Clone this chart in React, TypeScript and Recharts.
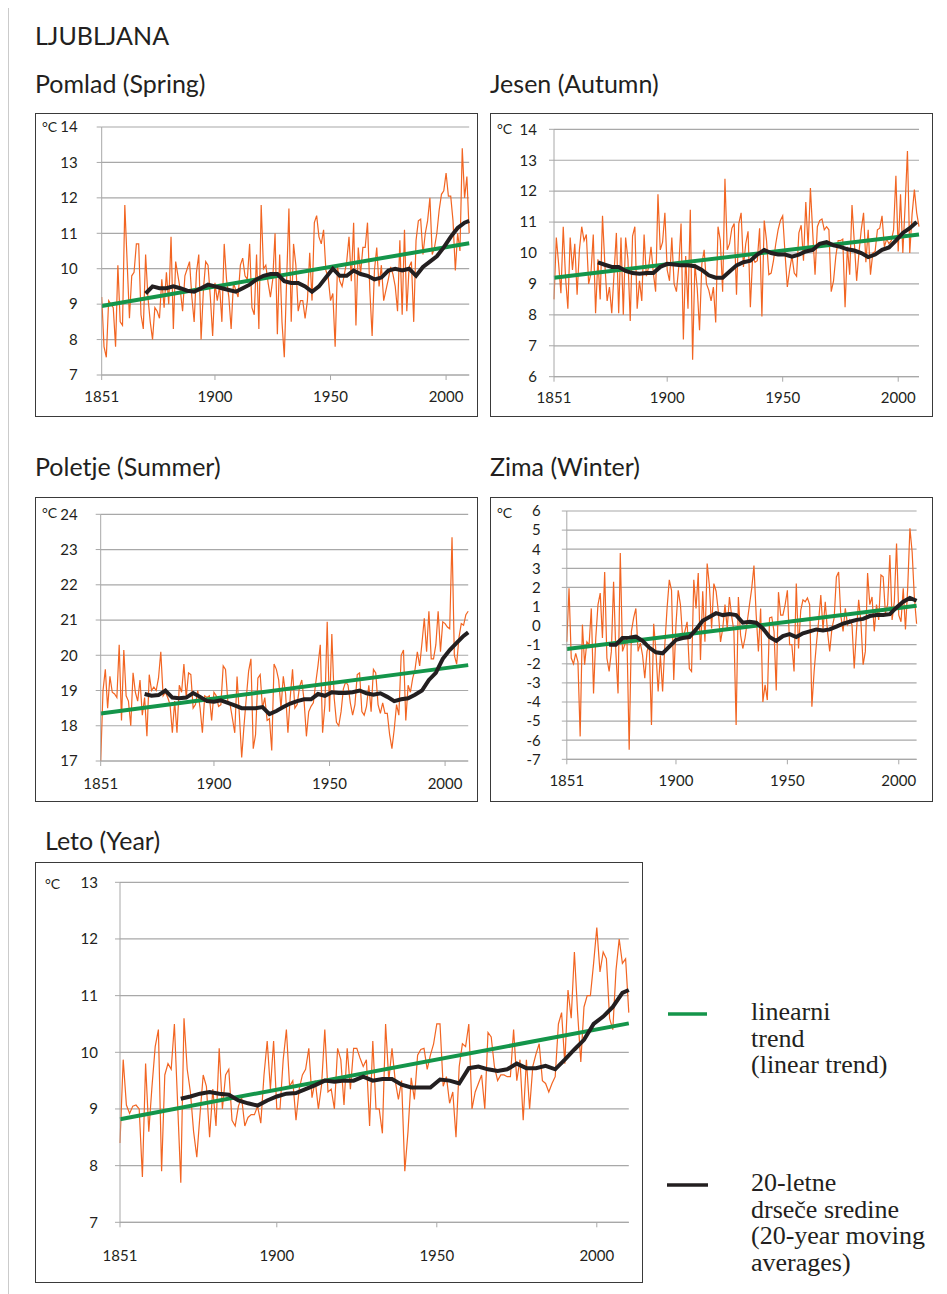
import React from "react";
import { CartesianGrid, Line, LineChart, ReferenceLine, XAxis, YAxis } from "recharts";

// first year of every series; each value array holds one value per year from here on
const FIRST_YEAR = 1851;
const xTicks = [1851, 1900, 1950, 2000];

const mavgYears = [
  1870, 1873, 1876, 1879, 1882, 1885, 1888, 1891, 1894, 1897, 1900, 1903, 1906, 1909, 1912, 1915,
  1918, 1921, 1924, 1927, 1930, 1933, 1936, 1939, 1942, 1945, 1948, 1951, 1954, 1957, 1960, 1963,
  1966, 1969, 1972, 1975, 1978, 1981, 1984, 1987, 1990, 1993, 1996, 1999, 2002, 2005, 2008, 2010,
];

// Pomlad (Spring) 1851-2010
const springValues = [
  9.2, 7.8, 7.5, 9.1, 9.0, 8.9, 7.8, 10.1, 8.5, 8.4,
  11.8, 10.2, 8.6, 9.8, 9.9, 10.7, 10.7, 8.7, 8.3, 10.4,
  9.2, 8.5, 8.0, 8.9, 8.8, 8.6, 9.7, 8.9, 9.9, 9.0,
  10.9, 8.3, 10.2, 9.8, 9.4, 8.8, 9.8, 10.0, 10.2, 9.2,
  8.5, 9.9, 10.4, 8.0, 9.4, 10.2, 10.1, 9.2, 8.1, 9.6,
  9.1, 9.5, 8.5, 10.7, 9.7, 9.2, 8.3, 9.6, 9.4, 9.2,
  10.1, 10.3, 9.8, 9.7, 10.7, 8.9, 8.7, 10.4, 8.3, 11.8,
  10.0, 10.1, 9.6, 9.2, 9.7, 11.0, 8.15, 10.4, 8.5, 7.5,
  9.65, 11.7, 8.5, 10.7, 10.1, 8.8, 9.1, 9.1, 8.6, 9.1,
  10.45, 9.1, 11.3, 11.5, 10.9, 10.7, 11.1, 9.95, 9.75, 9.1,
  9.3, 7.8, 10.05, 9.65, 9.5, 9.85, 10.2, 10.9, 9.65, 11.3,
  8.4, 10.6, 9.85, 10.6, 10.6, 11.3, 9.4, 8.1, 9.95, 10.6,
  9.5, 10.1, 9.1, 9.4, 9.7, 10.05, 9.85, 9.5, 8.8, 10.8,
  8.7, 11.1, 8.8, 10.05, 10.2, 8.5, 10.8, 11.35, 11.4, 10.4,
  11.0, 11.35, 12.0, 10.4, 10.6, 11.0, 11.65, 12.1, 12.2, 12.7,
  12.05, 12.05, 11.35, 9.95, 11.0, 10.5, 13.4, 12.0, 12.6, 11.0,
];
const springMavg = [
  9.3, 9.5, 9.45, 9.45, 9.5, 9.45, 9.38, 9.35, 9.45, 9.55,
  9.5, 9.45, 9.4, 9.35, 9.45, 9.55, 9.7, 9.8, 9.85, 9.85,
  9.65, 9.6, 9.6, 9.5, 9.35, 9.5, 9.75, 10.0, 9.8, 9.8,
  9.95, 9.85, 9.8, 9.7, 9.75, 9.95, 10.0, 9.95, 10.0, 9.8,
  10.05, 10.2, 10.35, 10.6, 10.9, 11.15, 11.3, 11.35,
];
const springTrend = [8.95, 10.72];
const springTicks = [7, 8, 9, 10, 11, 12, 13, 14];

// Jesen (Autumn) 1851-2009
const autumnValues = [
  8.5, 10.5, 9.65, 8.7, 10.85, 9.2, 8.2, 10.5, 9.45, 10.3,
  8.65, 10.1, 10.85, 10.4, 10.6, 9.0, 9.35, 10.6, 8.05, 9.8,
  8.5, 11.2, 9.65, 8.45, 8.9, 8.05, 9.35, 10.65, 8.05, 10.5,
  8.0, 10.5, 9.8, 7.8, 10.55, 10.85, 8.2, 9.1, 8.45, 10.6,
  9.25, 9.55, 10.2, 9.35, 8.75, 11.9, 10.1, 10.35, 11.3, 9.45,
  9.1, 10.5, 9.0, 8.75, 9.55, 10.95, 7.2, 9.9, 8.2, 11.4,
  6.55, 9.65, 8.85, 7.5, 9.65, 10.1, 9.0, 8.8, 8.45, 8.9,
  7.75, 10.85, 10.4, 8.75, 12.4, 10.1, 10.3, 10.8, 10.95, 8.65, 10.95,
  11.3, 9.55, 10.3, 10.7, 8.25, 9.9, 9.7, 9.75, 10.8, 7.95,
  11.05, 10.4, 9.3, 9.35, 9.75, 10.3, 10.75, 11.05, 11.2, 10.0,
  8.9, 9.45, 9.9, 9.35, 9.25, 10.65, 10.9, 9.75, 11.65, 10.2,
  12.1, 10.65, 9.3, 10.85, 11.05, 11.1, 10.75, 10.85, 10.75, 8.75,
  9.1, 9.9, 10.4, 10.4, 10.45, 8.25, 10.2, 9.3, 11.55, 10.35,
  9.1, 10.0, 10.75, 11.3, 9.7, 10.75, 9.3, 10.0, 10.05, 10.75,
  10.8, 11.2, 10.2, 10.45, 10.3, 10.4, 10.75, 12.5, 10.05, 11.9,
  10.0, 11.55, 13.3, 10.0, 11.25, 12.05, 11.3, 10.85,
];
const autumnMavg = [
  9.7, 9.62, 9.55, 9.55, 9.42, 9.35, 9.33, 9.35, 9.35, 9.55,
  9.65, 9.63, 9.6, 9.6, 9.57, 9.45, 9.28, 9.2, 9.2, 9.4,
  9.6, 9.7, 9.75, 9.95, 10.1, 10.0, 9.95, 9.95, 9.88, 9.95,
  10.05, 10.1, 10.3, 10.35, 10.25, 10.2, 10.12, 10.08, 10.0, 9.87,
  9.95, 10.1, 10.18, 10.4, 10.65, 10.8, 11.0, 11.05,
];
const autumnTrend = [9.2, 10.6];
const autumnTicks = [6, 7, 8, 9, 10, 11, 12, 13, 14];

// Poletje (Summer) 1851-2010
const summerValues = [
  17.0, 19.0, 19.6, 18.5, 19.4, 18.95, 18.9, 18.8, 20.3, 18.15,
  20.15, 18.85, 18.7, 18.0, 19.5, 18.95, 18.7, 19.3, 18.3, 18.8,
  17.7, 19.45, 19.0, 19.1, 19.0, 19.35, 20.1, 18.85, 18.95, 18.8,
  18.6, 17.8, 18.7, 17.8, 19.15, 18.95, 19.75, 18.8, 19.5, 19.45,
  18.5, 18.6, 19.0, 18.5, 17.8, 18.85, 18.8, 18.85, 18.15, 18.95,
  18.85, 18.55, 18.6, 19.7, 19.6, 18.7, 18.6, 18.2, 17.8, 19.4,
  18.3, 17.1, 18.0, 18.8, 19.55, 19.9, 17.35, 17.75, 19.35, 19.45,
  18.5, 18.8, 18.15, 18.2, 17.3, 19.75, 19.6, 19.3, 18.5, 19.4,
  18.9, 17.8, 18.8, 19.6, 18.5, 18.6, 19.1, 19.3, 18.7, 17.7,
  18.4, 18.55, 18.65, 19.2, 19.7, 20.3, 17.8, 18.6, 20.95, 18.4,
  20.6, 18.8, 18.1, 18.0, 18.4, 19.05, 19.25, 19.15, 18.65, 18.3,
  18.6, 19.45, 19.5, 18.4, 18.3, 18.55, 19.15, 18.4, 19.6, 19.5,
  18.6, 18.35, 18.65, 18.35, 18.35, 17.75, 17.35, 17.9, 18.6, 18.3,
  20.0, 20.15, 18.15, 19.15, 18.95, 19.35, 19.6, 20.1, 19.7, 20.35,
  21.05, 20.1, 21.25, 19.9, 19.9, 20.3, 21.25, 20.1, 20.95, 20.9,
  20.8, 20.75, 23.35, 20.0, 19.75, 20.5, 20.9, 20.85, 21.15, 21.25,
];
const summerMavg = [
  18.9, 18.85, 18.87, 19.0, 18.8, 18.78, 18.8, 18.93, 18.82, 18.7,
  18.68, 18.72, 18.65, 18.58, 18.5, 18.5, 18.5, 18.53, 18.33, 18.42,
  18.53, 18.63, 18.7, 18.75, 18.75, 18.9, 18.85, 18.95, 18.93, 18.93,
  18.95, 19.0, 18.92, 18.88, 18.92, 18.82, 18.7, 18.75, 18.78, 18.88,
  19.0, 19.3, 19.5, 19.9, 20.15, 20.35, 20.55, 20.65,
];
const summerTrend = [18.35, 19.72];
const summerTicks = [17, 18, 19, 20, 21, 22, 23, 24];

// Zima (Winter) 1851-2008
const winterValues = [
  -0.85, 1.95, -1.7, -2.0, -1.45, -1.9, -5.8, 0.05, -2.05, -0.85,
  -1.0, 0.9, -3.55, -0.65, 1.1, 1.7, -0.65, 2.8, -1.7, -2.4,
  -1.35, 2.3, -1.35, -3.55, 3.8, -1.35, -1.0, -0.65, -6.5, -0.3,
  0.4, 0.9, -1.35, -0.9, -1.55, -2.75, -1.35, -1.0, -5.2, 0.1,
  -1.35, -3.45, -1.55, -3.45, -1.0, 0.9, 2.4, 1.85, -2.85, 0.05,
  1.85, 1.1, -0.65, -0.3, 0.2, -2.25, -2.4, 2.4, 0.9, 2.75,
  -1.8, 1.8, -0.85, 3.25, 2.1, -0.15, 2.2, 1.8, 0.75, -0.85,
  -0.15, 1.1, -0.15, 1.5, 0.5, -0.3, -5.2, 1.5, -0.5, -1.2, -0.65,
  0.2, 1.1, 1.95, 3.15, 0.55, -1.35, 0.9, -4.0, -3.1, -3.9,
  0.4, 0.45, -0.3, -3.4, 1.75, 0.55, 0.55, 1.1, 1.85, -1.0,
  -1.0, -2.4, 2.2, -1.2, 0.8, 1.35, 1.25, 1.45, 1.1, -4.25,
  -2.4, -1.0, 0.2, 1.6, -0.2, 1.25, -0.3, -1.35, -0.15, 0.4,
  2.55, 2.8, 0.5, -0.3, 0.9, 0.05, 0.3, 0.05, -2.25, -0.3,
  1.35, 0.2, -2.05, -1.35, 2.75, 1.1, 1.5, -0.3, 1.1, 0.3,
  2.65, 2.55, 0.65, 1.1, 3.7, 0.3, 1.25, 4.3, 0.55, 0.2,
  1.95, -0.2, 1.95, 5.1, 3.85, 1.45, 0.1,
];
const winterMavg = [
  -1.0, -1.0, -0.65, -0.63, -0.58, -0.8, -1.15, -1.4, -1.45, -1.1,
  -0.75, -0.65, -0.6, -0.2, 0.25, 0.45, 0.65, 0.55, 0.6, 0.55,
  0.15, 0.2, 0.15, -0.15, -0.6, -0.8, -0.55, -0.45, -0.6, -0.4,
  -0.3, -0.2, -0.25, -0.2, -0.05, 0.1, 0.2, 0.3, 0.35, 0.5,
  0.55, 0.55, 0.6, 0.95, 1.25, 1.45, 1.3, 1.3,
];
const winterTrend = [-1.23, 1.04];
const winterTicks = [-7, -6, -5, -4, -3, -2, -1, 0, 1, 2, 3, 4, 5, 6];

// Leto (Year) 1851-2010
const yearValues = [
  8.4, 9.87, 9.07, 8.92, 9.05, 9.07, 9.0, 7.8, 9.8, 8.6,
  9.4, 10.1, 10.4, 7.9, 9.6, 9.8, 9.7, 10.5, 9.1, 7.7,
  10.6, 9.7, 9.3, 8.6, 8.15, 8.9, 9.6, 9.4, 8.5, 9.35,
  8.7, 10.07, 9.0, 9.6, 9.7, 8.8, 8.7, 9.05, 9.2, 8.7,
  8.85, 8.9, 8.9, 9.05, 8.75, 9.6, 10.2, 9.35, 10.2, 9.0,
  9.0, 9.87, 10.4, 9.4, 9.5, 8.8, 9.35, 9.6, 9.7, 10.07,
  9.2, 9.5, 9.0, 9.43, 10.4, 9.3, 9.35, 9.0, 10.07, 9.87,
  9.07, 10.07, 9.35, 10.07, 10.07, 9.9, 9.75, 9.87, 8.7, 10.2,
  9.0, 9.0, 8.57, 10.5, 9.5, 10.07, 9.5, 9.17, 9.5, 7.9,
  8.6, 9.55, 9.17, 9.95, 10.05, 10.07, 9.7, 9.95, 10.15, 10.5,
  10.5, 9.4, 9.57, 9.1, 9.3, 8.5, 9.75, 10.15, 10.1, 10.5,
  9.0, 9.3, 9.45, 9.6, 9.0, 10.35, 10.27, 9.75, 9.5, 9.6,
  9.6, 9.57, 9.57, 10.4, 9.5, 9.87, 8.8, 9.87, 9.0, 9.75,
  9.97, 10.15, 9.5, 9.45, 9.3, 9.45, 9.57, 10.5, 10.7, 9.8,
  11.1, 10.6, 11.77, 10.7, 9.83, 10.8, 11.0, 11.0, 11.57, 12.2,
  11.42, 11.77, 11.65, 10.6, 10.4, 11.45, 12.0, 11.57, 11.65, 10.7,
];
const yearMavg = [
  9.18, 9.22, 9.27, 9.3, 9.27, 9.25, 9.15, 9.1, 9.06, 9.15,
  9.22, 9.27, 9.28, 9.35, 9.42, 9.5, 9.48, 9.5, 9.5, 9.57,
  9.5, 9.53, 9.53, 9.43, 9.38, 9.38, 9.38, 9.52, 9.5, 9.45,
  9.72, 9.75, 9.7, 9.67, 9.7, 9.8, 9.72, 9.72, 9.76, 9.7,
  9.87, 10.05, 10.22, 10.5, 10.63, 10.8, 11.05, 11.1,
];
const yearTrend = [8.82, 10.51];
const yearTicks = [7, 8, 9, 10, 11, 12, 13];

const ORANGE = "#f26522";
const GREEN = "#14954a";
const BLACK = "#231f20";
const GRID = "#a8a8a8";
const SANS = "Lato, 'Open Sans', sans-serif";
const SERIF = "'Liberation Serif', 'DejaVu Serif', serif";

interface Point {
  year: number;
  v: number;
}

function annualOf(values: number[]) {
  const pts: Point[] = values.map((v, i) => ({ year: FIRST_YEAR + i, v }));
  return pts;
}

function mavgOf(values: number[], mavg: number[]) {
  const last = FIRST_YEAR + values.length - 1;
  const pts: Point[] = [];
  mavgYears.forEach((y, i) => {
    if (y <= last) pts.push({ year: y, v: mavg[i] });
  });
  return pts;
}

interface Box {
  x: number;
  y: number;
  w: number;
  h: number;
}

interface PanelProps {
  box: Box;
  plot: { left: number; right: number; top: number; bottom: number };
  values: number[];
  mavg: number[];
  trend: number[];
  yTicks: number[];
  yGap: number;
  xGap: number;
}

function Panel({ box, plot, values, mavg, trend, yTicks, yGap, xGap }: PanelProps) {
  const annual = annualOf(values);
  const lastYear = annual[annual.length - 1].year;
  const tickStyle = { fontSize: 15, fill: BLACK, fontFamily: SANS };
  return (
    <div
      style={{
        position: "absolute",
        left: box.x,
        top: box.y,
        width: box.w,
        height: box.h,
        boxSizing: "border-box",
        border: "1px solid #3a3a3a",
      }}
    >
      <div style={{ position: "absolute", left: -1, top: -1 }}>
        <LineChart
          width={box.w}
          height={box.h}
          data={annual}
          margin={{
            top: plot.top - box.y,
            right: box.x + box.w - plot.right,
            bottom: box.y + box.h - plot.bottom - 30,
            left: 0,
          }}
        >
          <CartesianGrid vertical={false} stroke={GRID} strokeWidth={1.2} />
          <XAxis
            dataKey="year"
            type="number"
            domain={[FIRST_YEAR, lastYear]}
            ticks={xTicks}
            interval={0}
            height={30}
            tickSize={5}
            tickMargin={xGap}
            stroke={GRID}
            tickLine={{ stroke: GRID }}
            tick={tickStyle}
          />
          <YAxis
            type="number"
            domain={[yTicks[0], yTicks[yTicks.length - 1]]}
            ticks={yTicks}
            interval={0}
            width={plot.left - box.x}
            tickSize={5}
            tickMargin={yGap}
            stroke={GRID}
            tickLine={{ stroke: GRID }}
            tick={tickStyle}
          />
          <Line
            type="linear"
            dataKey="v"
            stroke={ORANGE}
            strokeWidth={1.2}
            dot={false}
            activeDot={false}
            isAnimationActive={false}
          />
          {/* linear trend: straight segment between the read end values */}
          <ReferenceLine
            segment={[
              { x: FIRST_YEAR, y: trend[0] },
              { x: lastYear, y: trend[1] },
            ]}
            stroke={GREEN}
            strokeWidth={4}
          />
          <Line
            type="linear"
            data={mavgOf(values, mavg)}
            dataKey="v"
            stroke={BLACK}
            strokeWidth={4}
            dot={false}
            activeDot={false}
            isAnimationActive={false}
          />
        </LineChart>
      </div>
    </div>
  );
}

export default function App() {
  const titleStyle = { fontFamily: SANS, fontSize: 25, fill: BLACK };
  const unitStyle = { fontFamily: SANS, fontSize: 14, fill: BLACK };
  const legendStyle = { fontFamily: SERIF, fontSize: 26, fill: BLACK };

  return (
    <div
      style={{
        position: "relative",
        width: 947,
        height: 1294,
        margin: "-8px 0 0 -8px",
        overflow: "hidden",
        background: "#fff",
      }}
    >
      <svg width={947} height={1294} style={{ position: "absolute", left: 0, top: 0 }}>
        <text x={35} y={45} style={titleStyle}>LJUBLJANA</text>
        <text x={35} y={93} style={titleStyle}>Pomlad (Spring)</text>
        <text x={490} y={93} style={titleStyle}>Jesen (Autumn)</text>
        <text x={35} y={476} style={titleStyle}>Poletje (Summer)</text>
        <text x={490} y={476} style={titleStyle}>Zima (Winter)</text>
        <text x={45} y={850} style={titleStyle}>Leto (Year)</text>

        <line x1={668} y1={1014} x2={707} y2={1014} stroke={GREEN} strokeWidth={3.5} />
        <text style={legendStyle}>
          <tspan x={751} y={1020}>linearni</tspan>
          <tspan x={751} y={1046.5}>trend</tspan>
          <tspan x={751} y={1073}>(linear trend)</tspan>
        </text>
        <line x1={667} y1={1185} x2={708} y2={1185} stroke={BLACK} strokeWidth={3.5} />
        <text style={legendStyle}>
          <tspan x={751} y={1191}>20-letne</tspan>
          <tspan x={751} y={1217.5}>drseče sredine</tspan>
          <tspan x={751} y={1244}>(20-year moving</tspan>
          <tspan x={751} y={1270.5}>averages)</tspan>
        </text>
      </svg>

      <Panel
        box={{ x: 35, y: 113, w: 443, h: 304 }}
        plot={{ left: 101.7, right: 469.2, top: 127, bottom: 375 }}
        values={springValues}
        mavg={springMavg}
        trend={springTrend}
        yTicks={springTicks}
        yGap={19}
        xGap={11}
      />
      <Panel
        box={{ x: 490, y: 113, w: 443, h: 304 }}
        plot={{ left: 554, right: 919, top: 129.3, bottom: 376.7 }}
        values={autumnValues}
        mavg={autumnMavg}
        trend={autumnTrend}
        yTicks={autumnTicks}
        yGap={12}
        xGap={11}
      />
      <Panel
        box={{ x: 35, y: 497, w: 443, h: 305 }}
        plot={{ left: 100.7, right: 468.2, top: 514.3, bottom: 761 }}
        values={summerValues}
        mavg={summerMavg}
        trend={summerTrend}
        yTicks={summerTicks}
        yGap={18}
        xGap={12}
      />
      <Panel
        box={{ x: 490, y: 497, w: 443, h: 305 }}
        plot={{ left: 566.8, right: 916.6, top: 511, bottom: 759.3 }}
        values={winterValues}
        mavg={winterMavg}
        trend={winterTrend}
        yTicks={winterTicks}
        yGap={21}
        xGap={11}
      />
      <Panel
        box={{ x: 35, y: 862, w: 608, h: 421 }}
        plot={{ left: 120, right: 628.8, top: 882.3, bottom: 1222.3 }}
        values={yearValues}
        mavg={yearMavg}
        trend={yearTrend}
        yTicks={yearTicks}
        yGap={17}
        xGap={23}
      />

      {/* outer frame and unit labels on top */}
      <svg
        width={947}
        height={1294}
        style={{ position: "absolute", left: 0, top: 0, pointerEvents: "none" }}
      >
        <path d="M 947 5.5 L 7.5 5.5 L 7.5 1294" fill="none" stroke="#333" strokeWidth={1.5} />
        <text x={42} y={132} style={unitStyle}>°C</text>
        <text x={497} y={134} style={unitStyle}>°C</text>
        <text x={42} y={518} style={unitStyle}>°C</text>
        <text x={497} y={518} style={unitStyle}>°C</text>
        <text x={45} y={889} style={unitStyle}>°C</text>
      </svg>
    </div>
  );
}
